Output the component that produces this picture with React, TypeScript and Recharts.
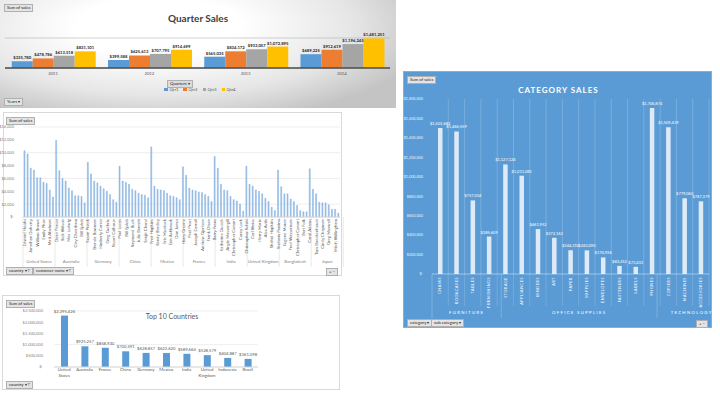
import { Bar, BarChart, CartesianGrid, LabelList, XAxis, YAxis } from "recharts";

// quarter sales by year
const years = ["2011", "2012", "2013", "2014"];
const quarters = ["Qtr1", "Qtr2", "Qtr3", "Qtr4"];
const qtr1 = [335780, 399588, 565035, 689225];
const qtr2 = [478786, 625613, 834172, 912619];
const qtr3 = [613518, 707795, 933057, 1196245];
const qtr4 = [831101, 914699, 1072895, 1481251];
const quarterColors = ["#5b9bd5", "#ed7d31", "#a5a5a5", "#ffc000"];

// top customers per country
const countries = ["United States", "Australia", "Germany", "China", "Mexico", "France", "India", "United Kingdom", "Bangladesh", "Japan"];
const customerNames = [
  ["Edward Hooks", "Tom Ashbrook", "Jonathan Doherty", "Sean Miller", "William Brown", "Tamara Chand", "Emily Phan", "Raymond Buch", "Matt Abelman", "Hunter Lopez"],
  ["Dean Percer", "Ken Lonsdale", "Rick Wilson", "Sanjit Engle", "Max Ludwig", "Gary Hwang", "Clay Cheatham", "Tamara Dahlen", "Bill Eplett", "Ruben Dartt"],
  ["Susan Pistek", "Jane Waco", "Brenda Bowman", "Karen Daniels", "Kimberly Carter", "Pete Kriz", "Greg Guthrie", "Adrian Barton", "Stuart Calhoun", "Maria Etezadi"],
  ["Paul Lucas", "Nick Crebassa", "Bill Eplett", "Harold Pawlan", "Raymond Buch", "Eric Hoffmann", "Julia Barnett", "Ken Black", "Sanjit Chand", "Sean Braxton"],
  ["Fred Hopkins", "Denise Leinenbach", "Randy Bradley", "Becky Martin", "Eric Murdock", "Alan Barnes", "Erin Ashbrook", "Mick Brown", "Don Jones", "Nora Preis"],
  ["Harry Greene", "Seth Vernon", "Paul Prost", "Todd Sumrall", "Joseph Carroll", "Kelly Collister", "Andrew Gjertsen", "Tom Prescott", "Frank Olsen", "Roy Skaria"],
  ["Barry Franz", "Grant Thornton", "Katharine Ducich", "Jim Sink", "Angie Massengill", "Liz Willingham", "Christopher Conant", "Guy Armstrong", "Corey Lock", "Anna Andreadi"],
  ["Christopher Schild", "Dan Reichenbach", "Carl Weiss", "Ann Blume", "Harry Marie", "Dave Brooks", "Alex Avila", "Lena Cacioppo", "Shahid Hopkins", "Ed Braxton"],
  ["Stefania Perrino", "Brian Moss", "Eugene Moren", "Chris Cortes", "Fred Wasserman", "Joel Eaton", "Christopher Conant", "Mike Pelletier", "Bart Folk", "Linda Cazamias"],
  ["Carol Adams", "Helen Wasserman", "Tom Boeckenhauer", "Aaron Hawkins", "Cindy Chapman", "Sally Hughsby", "Greg Maxwell", "Rob Dowd", "Mitch Willingham", "Jill Stevenson"],
];
const customerSales = [
  [10300, 9800, 7600, 7300, 6100, 6100, 5400, 5200, 4200, 3100],
  [11900, 7200, 6000, 5600, 4500, 4100, 3300, 3300, 3200, 2200],
  [8500, 6700, 5600, 5300, 4800, 4400, 4000, 3500, 2700, 2300],
  [7900, 5600, 5400, 5100, 4300, 4100, 3700, 3500, 3400, 3000],
  [10900, 4800, 4300, 4200, 4100, 3700, 3300, 3200, 3000, 2700],
  [7800, 6500, 4500, 4200, 4100, 3900, 3800, 3500, 3200, 2400],
  [9400, 7600, 5100, 4200, 4100, 3200, 2700, 2500, 2000, 900],
  [7900, 5100, 4800, 4200, 4000, 3600, 2900, 2400, 1500, 1000],
  [7300, 4700, 3600, 3600, 2800, 2400, 1800, 1000, 800, 800],
  [7500, 4300, 3600, 2300, 2200, 2200, 1900, 1200, 1200, 600],
];
const customerTicks = [0, 2000, 4000, 6000, 8000, 10000, 12000, 14000];

// top 10 countries
const topCountries = ["United States", "Australia", "France", "China", "Germany", "Mexico", "India", "United Kingdom", "Indonesia", "Brazil"];
const topCountrySales = [2295426, 925257, 858930, 700591, 628857, 622620, 589664, 528579, 404887, 361098];
const topTicks = [0, 500000, 1000000, 1500000, 2000000, 2500000];

// category sales
const categories = ["FURNITURE", "OFFICE SUPPLIES", "TECHNOLOGY"];
const categoryCounts = [4, 9, 4];
const subCategories = ["CHAIRS", "BOOKCASES", "TABLES", "FURNISHINGS", "STORAGE", "APPLIANCES", "BINDERS", "ART", "PAPER", "SUPPLIES", "ENVELOPES", "FASTENERS", "LABELS", "PHONES", "COPIERS", "MACHINES", "ACCESSORIES"];
const subCategorySales = [1501682, 1466559, 757034, 385609, 1127124, 1011081, 461952, 372163, 244310, 243090, 170926, 83252, 73433, 1706874, 1509439, 779060, 747379];
const categoryTicks = [0, 200000, 400000, 600000, 800000, 1000000, 1200000, 1400000, 1600000, 1800000];

const font = "Lato, 'Liberation Sans', Arial, sans-serif";
const money = (v: number) => (v === 0 ? "$-" : "$" + Math.round(v).toLocaleString("en-US"));

const quarterData = years.map((y, i) => ({ year: y, Qtr1: qtr1[i], Qtr2: qtr2[i], Qtr3: qtr3[i], Qtr4: qtr4[i] }));
const customerData = countries.flatMap((c, ci) =>
  customerNames[ci].map((n, k) => ({ name: n, country: c, sales: customerSales[ci][k] }))
);
const topData = topCountries.map((c, i) => ({ country: c, sales: topCountrySales[i] }));
const subCatData = subCategories.map((s, i) => ({ sub: s, sales: subCategorySales[i] }));

// group edges / midpoints for the two-level axes
function groupLayout(counts: number[]) {
  const edges = [0];
  const mids: number[] = [];
  counts.forEach((n) => {
    const start = edges[edges.length - 1];
    mids.push(start + n / 2);
    edges.push(start + n);
  });
  return { edges, mids, ticks: [...edges, ...mids].sort((a, b) => a - b) };
}
const countryGroups = groupLayout(countries.map((_, i) => customerNames[i].length));
const catGroups = groupLayout(categoryCounts);

function Tag({ left, top, children, dark }: any) {
  return (
    <div
      style={{
        position: "absolute",
        left,
        top,
        fontSize: 4.3,
        lineHeight: "6px",
        padding: "0 2px",
        background: dark ? "#dcdcdc" : "#e4e4e4",
        color: "#262626",
        border: "0.5px solid #b0b0b0",
        whiteSpace: "nowrap",
      }}
    >
      {children}
    </div>
  );
}

function GroupTick({ x, y, payload, groups, labels, drop, color, textColor, spacing }: any) {
  const v = payload.value;
  if (groups.edges.includes(v)) {
    return <line x1={x} x2={x} y1={y - drop} y2={y + 10} stroke={color} strokeWidth={0.6} />;
  }
  const label = labels[groups.mids.indexOf(v)];
  return (
    <text x={x} y={y + 5.5} textAnchor="middle" fontSize={4.3} fill={textColor} letterSpacing={spacing} fontFamily={font}>
      {label}
    </text>
  );
}

function RotTick({ x, y, payload, fill, fs, spacing, band, sep }: any) {
  return (
    <g>
      <text
        x={x}
        y={y}
        transform={`rotate(-90, ${x}, ${y})`}
        textAnchor="end"
        dy={fs * 0.35}
        fontSize={fs}
        fill={fill}
        letterSpacing={spacing}
        fontFamily={font}
      >
        {payload.value}
      </text>
      {sep ? <line x1={x + band / 2} x2={x + band / 2} y1={y - 4} y2={y + 29} stroke={sep} strokeWidth={0.5} /> : null}
    </g>
  );
}

function WrapTick({ x, y, payload }: any) {
  const words = String(payload.value).split(" ");
  return (
    <text x={x} y={y + 4} textAnchor="middle" fontSize={4.3} fill="#595959" fontFamily={font}>
      {words.map((w, i) => (
        <tspan key={i} x={x} dy={i === 0 ? 0 : 6}>
          {w}
        </tspan>
      ))}
    </text>
  );
}

function QuarterPanel() {
  return (
    <div
      style={{
        position: "absolute",
        left: 0,
        top: 0,
        width: 396,
        height: 108,
        background: "radial-gradient(ellipse 70% 90% at 40% 25%, #ffffff 30%, #e6e6e6 70%, #c4c4c4 100%)",
      }}
    >
      <Tag left={4} top={4}>Sum of sales</Tag>
      <div style={{ position: "absolute", left: 0, width: 396, top: 12, textAlign: "center", fontSize: 10, fontWeight: 700, color: "#404040" }}>
        Quarter Sales
      </div>
      <div style={{ position: "absolute", left: 0, top: 0 }}>
        <BarChart width={396} height={80} data={quarterData} margin={{ top: 38, right: 6, bottom: 0, left: 5 }} barGap={0} barCategoryGap="7%">
          <CartesianGrid vertical={false} stroke="#b4b4b4" strokeWidth={0.6} />
          <YAxis hide domain={[0, 1500000]} ticks={[0, 500000, 1000000, 1500000]} />
          <XAxis dataKey="year" height={12} tickLine={false} tickSize={0} tickMargin={4} axisLine={{ stroke: "#4d4d4d", strokeWidth: 1.5 }} tick={{ fontSize: 4.3, fill: "#595959", fontFamily: font }} />
          {quarters.map((q, i) => (
            <Bar key={q} dataKey={q} fill={quarterColors[i]} isAnimationActive={false}>
              <LabelList dataKey={q} position="top" offset={2} formatter={(v: any) => money(Number(v))} fontSize={4.2} fontWeight={700} fill="#262626" fontFamily={font} />
            </Bar>
          ))}
        </BarChart>
      </div>
      <Tag left={167} top={80} dark>
        Quarters ▾
      </Tag>
      <div style={{ position: "absolute", left: 160, width: 80, top: 87, display: "flex", justifyContent: "center", gap: 5, fontSize: 4.3, color: "#595959" }}>
        {quarters.map((q, i) => (
          <span key={q} style={{ display: "flex", alignItems: "center", gap: 1.5 }}>
            <span style={{ width: 3.5, height: 3.5, background: quarterColors[i], display: "inline-block" }} />
            {q}
          </span>
        ))}
      </div>
      <Tag left={4} top={98}>Years ▾</Tag>
    </div>
  );
}

function CustomerPanel() {
  const plotW = 339 - 20 - 2;
  const band = plotW / customerData.length;
  return (
    <div style={{ position: "absolute", left: 3, top: 112, width: 339, height: 164, border: "1px solid #d9d9d9", background: "#fff", boxSizing: "border-box" }}>
      <Tag left={2} top={4}>Sum of sales</Tag>
      <div style={{ position: "absolute", left: -1, top: -1 }}>
        <BarChart width={339} height={160} data={customerData} margin={{ top: 15, right: 2, bottom: 5, left: 0 }} barCategoryGap="30%">
          <CartesianGrid vertical={false} stroke="#e3e3e3" strokeWidth={0.6} />
          <YAxis width={20} domain={[0, 14000]} ticks={customerTicks} tickFormatter={money} axisLine={false} tickLine={false} tickMargin={3} tick={{ fontSize: 4, fill: "#7f7f7f", fontFamily: font }} />
          <XAxis
            xAxisId="b"
            type="number"
            domain={[0, customerData.length]}
            allowDataOverflow
            ticks={countryGroups.ticks}
            interval={0}
            height={10}
            tickSize={0}
            tickMargin={0}
            axisLine={false}
            tickLine={false}
            tick={(p: any) => <GroupTick {...p} groups={countryGroups} labels={countries} drop={40} color="#d9d9d9" textColor="#7f7f7f" spacing={0} />}
          />
          <XAxis
            xAxisId="a"
            dataKey="name"
            height={40}
            interval={1}
            tickSize={0}
            tickMargin={2}
            axisLine={{ stroke: "#d9d9d9" }}
            tick={(p: any) => <RotTick {...p} fill="#595959" fs={4.3} spacing={0} band={band} />}
          />
          <Bar xAxisId="a" dataKey="sales" fill="#a7c7ea" stroke="#6a9fd8" strokeWidth={0.4} isAnimationActive={false} />
        </BarChart>
      </div>
      <Tag left={2} top={154}>country ▾⊤</Tag>
      <Tag left={29} top={154}>customer name ▾⊤</Tag>
      <Tag left={322} top={155}>+ −</Tag>
    </div>
  );
}

function TopCountriesPanel() {
  return (
    <div style={{ position: "absolute", left: 2, top: 295, width: 338, height: 95, border: "1px solid #d9d9d9", background: "#fff", boxSizing: "border-box" }}>
      <Tag left={3} top={4}>Sum of sales</Tag>
      <div style={{ position: "absolute", left: 0, width: 338, top: 16, textAlign: "center", fontSize: 7, color: "#595959", paddingRight: 2 }}>
        Top 10 Countries
      </div>
      <div style={{ position: "absolute", left: -1, top: -1 }}>
        <BarChart width={338} height={92} data={topData} margin={{ top: 16, right: 82, bottom: 6, left: 0 }}>
          <CartesianGrid vertical={false} stroke="#e3e3e3" strokeWidth={0.6} />
          <YAxis width={52} domain={[0, 2500000]} ticks={topTicks} tickFormatter={money} axisLine={false} tickLine={false} tickMargin={5} tick={{ fontSize: 4, fill: "#7f7f7f", fontFamily: font }} />
          <XAxis dataKey="country" height={14} interval={0} tickSize={0} tickMargin={0} axisLine={{ stroke: "#d9d9d9" }} tickLine={false} tick={(p: any) => <WrapTick {...p} />} />
          <Bar dataKey="sales" fill="#5b9bd5" barSize={7} isAnimationActive={false}>
            <LabelList dataKey="sales" position="top" offset={3} formatter={(v: any) => money(Number(v))} fontSize={4.2} fill="#595959" fontFamily={font} />
          </Bar>
        </BarChart>
      </div>
      <Tag left={3} top={85}>country ▾⊤</Tag>
    </div>
  );
}

function CategoryPanel() {
  const plotW = 309 - 29 - 3;
  const band = plotW / subCatData.length;
  return (
    <div style={{ position: "absolute", left: 403, top: 71, width: 309, height: 257, background: "#5b9bd5", border: "1px solid #7fb0de", boxSizing: "border-box" }}>
      <Tag left={3} top={4}>Sum of sales</Tag>
      <div style={{ position: "absolute", left: 0, width: 309, top: 13, textAlign: "center", fontSize: 8, fontWeight: 700, letterSpacing: 1, color: "#ffffff" }}>
        CATEGORY SALES
      </div>
      <div style={{ position: "absolute", left: -1, top: -1 }}>
        <BarChart width={309} height={250} data={subCatData} margin={{ top: 28, right: 3, bottom: 3, left: 0 }}>
          <CartesianGrid
            horizontal={false}
            stroke="#ffffff"
            strokeOpacity={0.3}
            strokeWidth={0.6}
            verticalCoordinatesGenerator={({ offset }: any) =>
              subCatData.map((_, i) => offset.left + ((i + 1) * offset.width) / subCatData.length)
            }
          />
          <YAxis width={29} domain={[0, 1800000]} ticks={categoryTicks} tickFormatter={money} axisLine={false} tickLine={false} tickMargin={3} tick={{ fontSize: 3.8, fill: "#e6eff9", fontFamily: font }} />
          <XAxis
            xAxisId="b"
            type="number"
            domain={[0, subCatData.length]}
            allowDataOverflow
            ticks={catGroups.ticks}
            interval={0}
            height={10}
            tickSize={0}
            tickMargin={0}
            axisLine={false}
            tickLine={false}
            tick={(p: any) => <GroupTick {...p} groups={catGroups} labels={categories} drop={34} color="rgba(255,255,255,0.35)" textColor="#ffffff" spacing={1.3} />}
          />
          <XAxis
            xAxisId="a"
            dataKey="sub"
            height={34}
            interval={0}
            tickSize={0}
            tickMargin={3}
            axisLine={{ stroke: "#ffffff", strokeOpacity: 0.4 }}
            tick={(p: any) => <RotTick {...p} fill="#ffffff" fs={3.7} spacing={0.6} band={band} sep="rgba(255,255,255,0.3)" />}
          />
          <Bar xAxisId="a" dataKey="sales" fill="#deebf7" barSize={4.5} isAnimationActive={false}>
            <LabelList dataKey="sales" position="top" offset={3} formatter={(v: any) => money(Number(v))} fontSize={4} fill="#ffffff" fontFamily={font} />
          </Bar>
        </BarChart>
      </div>
      <Tag left={3} top={247}>category ▾</Tag>
      <Tag left={27} top={247}>sub category ▾</Tag>
      <Tag left={292} top={248}>+ −</Tag>
    </div>
  );
}

export default function App() {
  return (
    <div style={{ position: "absolute", left: 0, top: 0, width: 720, height: 405, background: "#ffffff", fontFamily: font, overflow: "hidden" }}>
      <style>{"svg{overflow:visible}"}</style>
      <QuarterPanel />
      <CustomerPanel />
      <TopCountriesPanel />
      <CategoryPanel />
    </div>
  );
}
